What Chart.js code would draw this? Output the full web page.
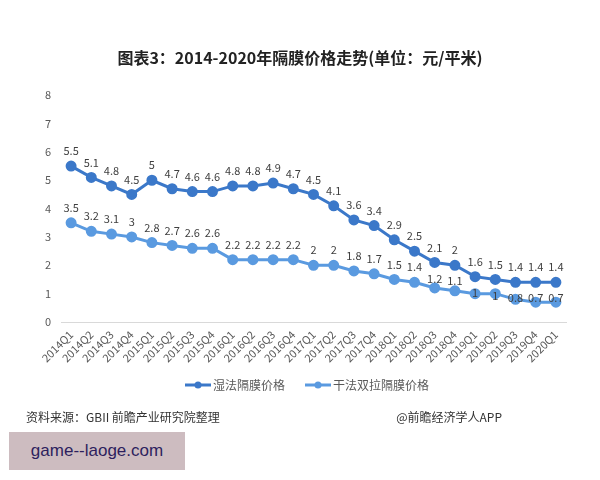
<!DOCTYPE html>
<html>
<head>
<meta charset="utf-8">
<script src="https://cdn.jsdelivr.net/npm/chart.js@4.4.1/dist/chart.umd.min.js"></script>
<style>
  body { margin: 0; background: #fff; }
  #wrap { position: relative; width: 600px; height: 480px; }
  #src { position: absolute; left: 26px; top: 408px; font: 12px "Noto Sans CJK SC", sans-serif; color: #333; }
  #app { position: absolute; right: 98px; top: 408px; font: 12px "Noto Sans CJK SC", sans-serif; color: #333; }
  #site { position: absolute; left: 9px; top: 432px; width: 176px; height: 38px; background: #cdbcc0;
          font: 17px "Liberation Sans", Arial, sans-serif; color: #2d1f5e; line-height: 38px; text-align: center; }
</style>
</head>
<body>
<div id="wrap">
  <canvas id="c" width="600" height="480"></canvas>
  <div id="src">资料来源：GBII 前瞻产业研究院整理</div>
  <div id="app">@前瞻经济学人APP</div>
  <div id="site">game--laoge.com</div>
</div>
<script>
const quarters = ['2014Q1','2014Q2','2014Q3','2014Q4','2015Q1','2015Q2','2015Q3','2015Q4',
  '2016Q1','2016Q2','2016Q3','2016Q4','2017Q1','2017Q2','2017Q3','2017Q4',
  '2018Q1','2018Q2','2018Q3','2018Q4','2019Q1','2019Q2','2019Q3','2019Q4','2020Q1'];
const wetPrice = [5.5,5.1,4.8,4.5,5,4.7,4.6,4.6,4.8,4.8,4.9,4.7,4.5,4.1,3.6,3.4,2.9,2.5,2.1,2,1.6,1.5,1.4,1.4,1.4];
const dryPrice = [3.5,3.2,3.1,3,2.8,2.7,2.6,2.6,2.2,2.2,2.2,2.2,2,2,1.8,1.7,1.5,1.4,1.2,1.1,1,1,0.8,0.7,0.7];
const yTicks = [0,1,2,3,4,5,6,7,8];

const wetColor = '#3b78c9';
const dryColor = '#5a9ae0';
const cjk = '"Noto Sans CJK SC", sans-serif';

// line+dot icon for the legend, drawn on the right part so it sits close to the text
function legendIcon(color) {
  const cv = document.createElement('canvas');
  cv.width = 34; cv.height = 10;
  const g = cv.getContext('2d');
  g.strokeStyle = color; g.lineWidth = 3;
  g.beginPath(); g.moveTo(8, 5); g.lineTo(34, 5); g.stroke();
  g.fillStyle = color;
  g.beginPath(); g.arc(21, 5, 3.5, 0, Math.PI * 2); g.fill();
  return cv;
}

// value labels above points; the lower series keeps clear of the upper line
const labelPlugin = {
  id: 'valueLabels',
  afterDatasetsDraw(chart) {
    const ctx = chart.ctx;
    const upper = chart.getDatasetMeta(0).data;
    ctx.save();
    ctx.font = '11px ' + cjk;
    ctx.fillStyle = '#404040';
    ctx.textAlign = 'center';
    ctx.textBaseline = 'middle';
    chart.data.datasets.forEach((ds, di) => {
      chart.getDatasetMeta(di).data.forEach((pt, i) => {
        let y = pt.y - 15;
        if (di === 1) y = Math.max(y, upper[i].y + 16);
        ctx.fillText(String(ds.data[i]), pt.x, y);
      });
    });
    ctx.restore();
  }
};

// title and legend are centred on the whole page, not on the padded box
const centerPlugin = {
  id: 'centerBlocks',
  afterLayout(chart) {
    if (chart.titleBlock) { chart.titleBlock.left += 17; chart.titleBlock.right += 17; }
    if (chart.legend) { chart.legend.left += 22; chart.legend.right += 22; }
  }
};

new Chart(document.getElementById('c'), {
  type: 'line',
  data: {
    labels: quarters,
    datasets: [{
      label: '湿法隔膜价格',
      data: wetPrice,
      borderColor: wetColor,
      backgroundColor: wetColor,
      borderWidth: 3,
      pointRadius: 4,
      tension: 0
    }, {
      label: '干法双拉隔膜价格',
      data: dryPrice,
      borderColor: dryColor,
      backgroundColor: dryColor,
      borderWidth: 3,
      pointRadius: 4,
      tension: 0
    }]
  },
  options: {
    responsive: false,
    animation: false,
    layout: { padding: { left: 0, right: 34, top: 40, bottom: 79 } },
    plugins: {
      title: {
        display: true,
        text: '图表3：2014-2020年隔膜价格走势(单位：元/平米)',
        color: '#222',
        font: { family: cjk, size: 16, weight: 'bold' },
        padding: { top: 8, bottom: 28 }
      },
      legend: {
        position: 'bottom',
        labels: {
          usePointStyle: true,
          pointStyleWidth: 26,
          color: '#595959',
          font: { family: cjk, size: 12 },
          padding: 16,
          generateLabels(chart) {
            return chart.data.datasets.map((ds, i) => ({
              text: ds.label,
              pointStyle: legendIcon(ds.borderColor),
              fillStyle: ds.borderColor,
              strokeStyle: ds.borderColor,
              fontColor: '#595959',
              lineWidth: 0,
              datasetIndex: i
            }));
          }
        }
      },
      tooltip: { enabled: false }
    },
    scales: {
      x: {
        offset: true,
        grid: { display: false, drawTicks: false },
        border: { display: true, color: '#d9d9d9', width: 1 },
        ticks: {
          minRotation: 45, maxRotation: 45, autoSkip: false,
          color: '#595959', font: { family: cjk, size: 11 }, padding: 6
        },
        afterFit(scale) { scale.height = 41; }
      },
      y: {
        min: 0, max: 8,
        afterBuildTicks(scale) { scale.ticks = yTicks.map(v => ({ value: v })); },
        grid: { display: false, drawTicks: false },
        border: { display: false },
        ticks: { color: '#595959', font: { family: cjk, size: 11 }, padding: 10 },
        afterFit(scale) { scale.width = 61; }
      }
    }
  },
  plugins: [labelPlugin, centerPlugin]
});
</script>
</body>
</html>
